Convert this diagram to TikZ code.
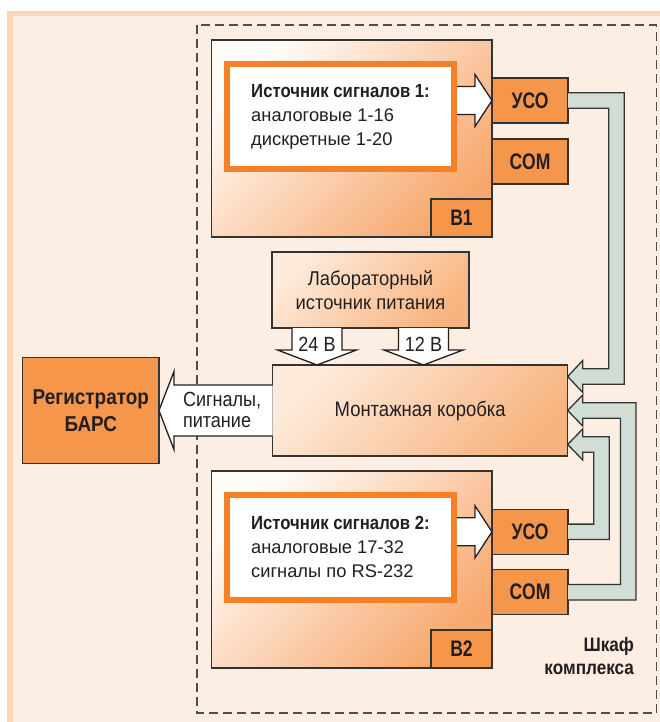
\documentclass[tikz,border=0pt]{standalone}
\usepackage{fontspec}
\setmainfont{Liberation Sans}
\newfontfamily\condfont[FakeStretch=0.88]{Liberation Sans}
\newfontfamily\labfont[FakeStretch=0.92]{Liberation Sans}
\newfontfamily\lblfont[FakeStretch=0.78]{Liberation Sans}
\usetikzlibrary{calc}
\definecolor{bgout}{RGB}{252,214,184}
\definecolor{bgin}{RGB}{253,238,227}
\definecolor{orng}{RGB}{246,150,75}
\definecolor{srcor}{RGB}{245,128,37}
\definecolor{pipec}{RGB}{208,222,214}
\definecolor{ink}{RGB}{35,31,32}
\definecolor{edge}{RGB}{51,51,51}
\definecolor{dashc}{RGB}{77,77,77}
\definecolor{gA}{RGB}{255,251,247}
\definecolor{gB}{RGB}{247,168,110}
\definecolor{gC}{RGB}{253,234,218}
\definecolor{gD}{RGB}{248,180,128}
\begin{document}
\begin{tikzpicture}[x=1pt,y=-1pt,
  every node/.style={text=ink, inner sep=0pt, outer sep=0pt},
  blockbox/.style={draw=edge, line width=1.2pt, top color=gA, bottom color=gB, shading angle=45,
    minimum width=280.3, minimum height=197},
  lightbox/.style={draw=edge, line width=1.2pt, top color=gC, bottom color=gD, shading angle=45},
  srcbox/.style={draw=srcor, line width=6pt, fill=white, outer sep=3pt, minimum width=227, minimum height=105,
    align=left, font=\fontsize{18.3}{24}\selectfont},
  lblbox/.style={draw=edge, line width=1.2pt, fill=orng, font=\lblfont\bfseries\fontsize{22.5}{26}\selectfont},
  hollow/.style={draw=ink, fill=white, line width=1.3pt, line join=miter},
  pipe/.style={draw=edge, fill=pipec, line width=1.3pt, line join=miter},
  cabinet/.style={draw=dashc, line width=1.2pt, dash pattern=on 9pt off 5pt}
]
\useasboundingbox (0,0) rectangle (660,722);
% background
\fill[bgout] (7,11) rectangle (660,722);
\fill[bgin] (12.7,16) rectangle (660,722);
\draw[cabinet] (197,25) rectangle (656.7,713);

% blocks
\node[blockbox] (b1) at (351.85,138.5) {};
\node[blockbox] (b2) at (351.85,569.5) {};
\node[lblbox, anchor=south east, minimum width=61, minimum height=38] (b1l) at (b1.south east) {B1};
\node[lblbox, anchor=south east, minimum width=61, minimum height=38] (b2l) at (b2.south east) {B2};

% USO / COM
\node[lblbox, anchor=west, minimum width=76, minimum height=45] (uso1) at (492,100.5) {УСО};
\node[lblbox, anchor=west, minimum width=76, minimum height=45] (com1) at (492,161.5) {COM};
\node[lblbox, anchor=west, minimum width=76, minimum height=45] (uso2) at (492,531.8) {УСО};
\node[lblbox, anchor=west, minimum width=76, minimum height=45] (com2) at (492,592.2) {COM};

% signal sources
\node[srcbox] (src1) at (340.5,116.5) {{\condfont\bfseries\fontsize{19}{24}\selectfont Источник сигналов 1:}\\аналоговые 1-16\\дискретные 1-20};
\node[srcbox] (src2) at (340.4,547.2) {{\condfont\bfseries\fontsize{19}{24}\selectfont Источник сигналов 2:}\\аналоговые 17-32\\сигналы по RS-232};

% hollow arrows source -> USO
\filldraw[hollow] ($(src1.east|-uso1.west)+(0,-14)$) -- ($(uso1.west)+(-17,-14)$) -- ($(uso1.west)+(-17,-26)$)
  -- (uso1.west) -- ($(uso1.west)+(-17,26)$) -- ($(uso1.west)+(-17,14)$) -- ($(src1.east|-uso1.west)+(0,14)$);
\filldraw[hollow] ($(src2.east|-uso2.west)+(0,-14)$) -- ($(uso2.west)+(-17,-14)$) -- ($(uso2.west)+(-17,-26)$)
  -- (uso2.west) -- ($(uso2.west)+(-17,26)$) -- ($(uso2.west)+(-17,14)$) -- ($(src2.east|-uso2.west)+(0,14)$);

% lab supply, junction box, recorder
\node[lightbox, minimum width=197, minimum height=76, align=center, font=\labfont\fontsize{20}{24}\selectfont] (lab) at (370.5,290) {Лабораторный\\источник питания};
\node[lightbox, minimum width=295, minimum height=91, font=\condfont\fontsize{21}{24}\selectfont] (mont) at (420.2,410.5) {Монтажная коробка};
\node[draw=edge, line width=1.2pt, fill=orng, minimum width=136.3, minimum height=105.3, align=center,
  font=\condfont\bfseries\fontsize{21.5}{26.7}\selectfont] (reg) at (90.8,410.5) {Регистратор\\БАРС};

% tip coordinates on junction box
\coordinate (t24) at ($(mont.north west)+(44.3,0)$);
\coordinate (t12) at ($(mont.north west)+(150.8,0)$);
\coordinate (tA) at ($(mont.east)+(0,-34)$);
\coordinate (tB) at ($(mont.east)+(0,0)$);
\coordinate (tC) at ($(mont.east)+(0,34)$);
\coordinate (colA) at (616.5,0);
\coordinate (colB) at (628.2,0);
\coordinate (colC) at (601.5,0);

% power arrows
\filldraw[hollow] ($(lab.south-|t24)+(-25,0)$) -- ($(t24)+(-25,-15)$) -- ($(t24)+(-39.5,-15)$) -- (t24)
  -- ($(t24)+(39.5,-15)$) -- ($(t24)+(25,-15)$) -- ($(lab.south-|t24)+(25,0)$);
\filldraw[hollow] ($(lab.south-|t12)+(-25,0)$) -- ($(t12)+(-25,-15)$) -- ($(t12)+(-39.5,-15)$) -- (t12)
  -- ($(t12)+(39.5,-15)$) -- ($(t12)+(25,-15)$) -- ($(lab.south-|t12)+(25,0)$);
\node[anchor=base, font=\condfont\fontsize{20.5}{24}\selectfont] (v24) at ($(t24)+(0,-14)$) {24 В};
\node[anchor=base, font=\condfont\fontsize{20.5}{24}\selectfont] (v12) at ($(t12)+(0,-14)$) {12 В};

% output arrow to recorder
\filldraw[hollow] ($(mont.west)+(0,-25.5)$) -- ($(reg.east)+(15,-25.5)$) -- ($(reg.east)+(15,-39)$) -- (reg.east)
  -- ($(reg.east)+(15,39)$) -- ($(reg.east)+(15,25.5)$) -- ($(mont.west)+(0,25.5)$);
\node[anchor=west, align=left, font=\condfont\fontsize{20.5}{21.7}\selectfont] (sig) at (183,410) {Сигналы,\\питание};

% pipes
\filldraw[pipe] ($(uso1.east)+(0,-7.7)$) -- ($(colA|-uso1.east)+(7.7,-7.7)$) -- ($(colA|-tA)+(7.7,7.7)$)
  -- ($(tA)+(15,7.7)$) -- ($(tA)+(15,16)$) -- (tA) -- ($(tA)+(15,-16)$) -- ($(tA)+(15,-7.7)$)
  -- ($(colA|-tA)+(-7.7,-7.7)$) -- ($(colA|-uso1.east)+(-7.7,7.7)$) -- ($(uso1.east)+(0,7.7)$);
\filldraw[pipe] ($(com2.east)+(0,7.7)$) -- ($(colB|-com2.east)+(7.7,7.7)$) -- ($(colB|-tB)+(7.7,-7.7)$)
  -- ($(tB)+(15,-7.7)$) -- ($(tB)+(15,-15.5)$) -- (tB) -- ($(tB)+(15,15.5)$) -- ($(tB)+(15,7.7)$)
  -- ($(colB|-tB)+(-7.7,7.7)$) -- ($(colB|-com2.east)+(-7.7,-7.7)$) -- ($(com2.east)+(0,-7.7)$);
\filldraw[pipe] ($(uso2.east)+(0,7.7)$) -- ($(colC|-uso2.east)+(7.7,7.7)$) -- ($(colC|-tC)+(7.7,-7.7)$)
  -- ($(tC)+(15,-7.7)$) -- ($(tC)+(15,-15.5)$) -- (tC) -- ($(tC)+(15,15.5)$) -- ($(tC)+(15,7.7)$)
  -- ($(colC|-tC)+(-7.7,7.7)$) -- ($(colC|-uso2.east)+(-7.7,-7.7)$) -- ($(uso2.east)+(0,-7.7)$);

% cabinet label
\node[anchor=base east, align=right, font=\condfont\bfseries\fontsize{19.5}{23}\selectfont] (shk) at (634,674) {Шкаф\\комплекса};
\end{tikzpicture}
\end{document}
